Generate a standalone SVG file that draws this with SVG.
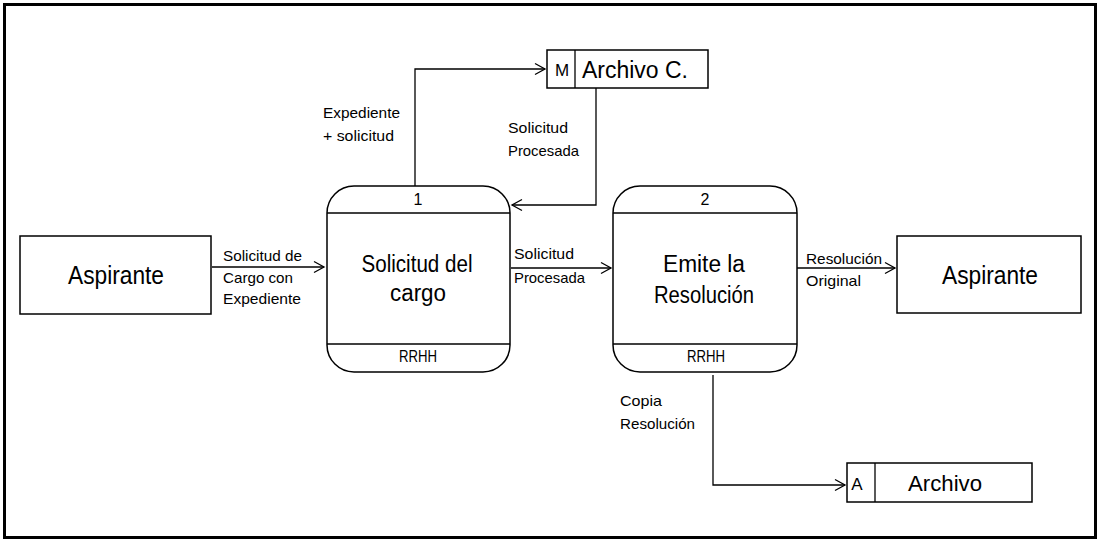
<svg xmlns="http://www.w3.org/2000/svg" width="1099" height="543" viewBox="0 0 1099 543">
<defs>
<style>
.frame{fill:none;stroke:#000;stroke-width:3}
.box{fill:#fff;stroke:#000;stroke-width:1.5}
.ln{fill:none;stroke:#000;stroke-width:1.3}
.con{fill:none;stroke:#000;stroke-width:1.3;marker-end:url(#arr)}
text{font-family:"Liberation Sans Narrow","Liberation Sans",Arial,sans-serif;fill:#000}
.big{font-size:25px;text-anchor:middle}
.mid{font-size:23px;text-anchor:middle}
.sm{font-size:16px;text-anchor:middle}
.lbl{font-size:15px}
</style>
<marker id="arr" markerWidth="14" markerHeight="14" refX="12" refY="7" orient="auto" markerUnits="userSpaceOnUse">
<path d="M2,1.5 L12,7 L2,12.5" fill="none" stroke="#000" stroke-width="1.3"/>
</marker>
</defs>
<rect width="1099" height="543" fill="#fff"/>
<rect class="frame" x="4.5" y="4.5" width="1091" height="533"/>

<g id="connectors">
<path class="con" d="M212,267 H324"/>
<path class="con" d="M511,268 H611"/>
<path class="con" d="M797,268 H895"/>
<path class="con" d="M415,186 V69 H545"/>
<path class="con" d="M596,88 V205 H512"/>
<path class="con" d="M713,375 V485 H845"/>
<text class="lbl" x="323" y="118" textLength="77" lengthAdjust="spacingAndGlyphs">Expediente</text>
<text class="lbl" x="323" y="141" textLength="71" lengthAdjust="spacingAndGlyphs">+ solicitud</text>
<text class="lbl" x="508" y="133" textLength="60" lengthAdjust="spacingAndGlyphs">Solicitud</text>
<text class="lbl" x="508" y="156" textLength="71" lengthAdjust="spacingAndGlyphs">Procesada</text>
<text class="lbl" x="223" y="261" textLength="79" lengthAdjust="spacingAndGlyphs">Solicitud de</text>
<text class="lbl" x="223" y="283" textLength="70" lengthAdjust="spacingAndGlyphs">Cargo con</text>
<text class="lbl" x="223" y="304" textLength="78" lengthAdjust="spacingAndGlyphs">Expediente</text>
<text class="lbl" x="514" y="259" textLength="60" lengthAdjust="spacingAndGlyphs">Solicitud</text>
<text class="lbl" x="514" y="283" textLength="71" lengthAdjust="spacingAndGlyphs">Procesada</text>
<text class="lbl" x="806" y="264" textLength="76" lengthAdjust="spacingAndGlyphs">Resolución</text>
<text class="lbl" x="806" y="286" textLength="55" lengthAdjust="spacingAndGlyphs">Original</text>
<text class="lbl" x="620" y="406" textLength="42" lengthAdjust="spacingAndGlyphs">Copia</text>
<text class="lbl" x="620" y="429" textLength="75" lengthAdjust="spacingAndGlyphs">Resolución</text>
</g>

<g id="aspirante-1">
<rect class="box" x="20" y="236" width="191" height="78"/>
<text class="big" x="116" y="284" textLength="96" lengthAdjust="spacingAndGlyphs">Aspirante</text>
</g>

<g id="proceso-1">
<rect class="box" x="327" y="186" width="183" height="186" rx="27" ry="27"/>
<line class="ln" x1="327" y1="213" x2="510" y2="213"/>
<line class="ln" x1="327" y1="344" x2="510" y2="344"/>
<text class="sm" x="418" y="205">1</text>
<text class="mid" x="417" y="272" textLength="111" lengthAdjust="spacingAndGlyphs">Solicitud del</text>
<text class="mid" x="418" y="301" textLength="56" lengthAdjust="spacingAndGlyphs">cargo</text>
<text class="sm" x="418" y="362" textLength="38" lengthAdjust="spacingAndGlyphs">RRHH</text>
</g>

<g id="proceso-2">
<rect class="box" x="613" y="186" width="184" height="186" rx="27" ry="27"/>
<line class="ln" x1="613" y1="213" x2="797" y2="213"/>
<line class="ln" x1="613" y1="344" x2="797" y2="344"/>
<text class="sm" x="705" y="205">2</text>
<text class="mid" x="704" y="272" textLength="82" lengthAdjust="spacingAndGlyphs">Emite la</text>
<text class="mid" x="704" y="303" textLength="100" lengthAdjust="spacingAndGlyphs">Resolución</text>
<text class="sm" x="706" y="362" textLength="38" lengthAdjust="spacingAndGlyphs">RRHH</text>
</g>

<g id="aspirante-2">
<rect class="box" x="897" y="236" width="184" height="77"/>
<text class="big" x="990" y="284" textLength="96" lengthAdjust="spacingAndGlyphs">Aspirante</text>
</g>

<g id="archivo-c">
<rect class="box" x="547" y="50" width="161" height="38"/>
<line class="ln" x1="575" y1="50" x2="575" y2="88"/>
<text x="562" y="76" font-size="17" text-anchor="middle">M</text>
<text x="582" y="78" font-size="23" textLength="106" lengthAdjust="spacingAndGlyphs">Archivo C.</text>
</g>

<g id="archivo">
<rect class="box" x="847" y="463" width="185" height="39"/>
<line class="ln" x1="875" y1="463" x2="875" y2="502"/>
<text x="857" y="490" font-size="17" text-anchor="middle">A</text>
<text x="908" y="491" font-size="22" textLength="74" lengthAdjust="spacingAndGlyphs">Archivo</text>
</g>
</svg>
